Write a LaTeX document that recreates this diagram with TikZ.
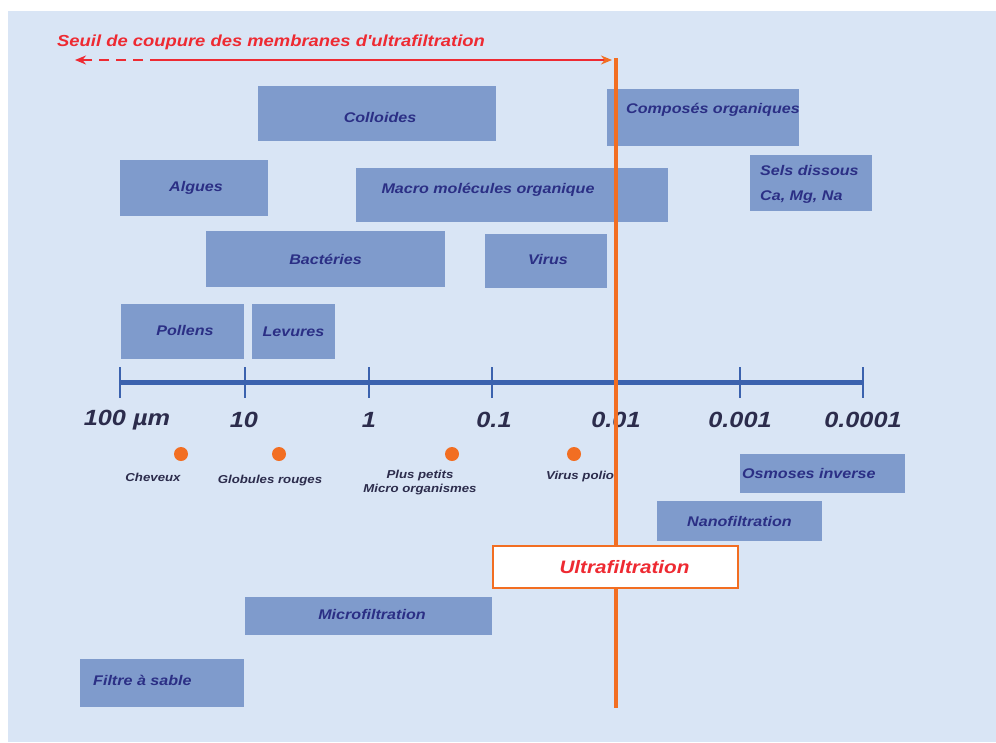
\documentclass[tikz,border=0pt]{standalone}
\usepackage{fontspec}
\setmainfont{Liberation Sans}
\newfontfamily\widefont[FakeStretch=1.15]{Liberation Sans}
\usetikzlibrary{arrows.meta}
\definecolor{bg}{HTML}{D9E5F5}
\definecolor{boxc}{HTML}{7F9BCC}
\definecolor{txt}{HTML}{2B2F85}
\definecolor{axc}{HTML}{3B62AE}
\definecolor{org}{HTML}{F26E22}
\definecolor{redt}{HTML}{EE2A32}
\definecolor{lab}{HTML}{2C2C4C}
\begin{document}
\begin{tikzpicture}[x=1pt,y=-1pt,
  box/.style={fill=boxc, draw=none, inner sep=0pt, text=txt,
    font=\widefont\bfseries\itshape\fontsize{14}{16}\selectfont},
  boxtext/.style={inner sep=0pt, text=txt, font=\widefont\bfseries\itshape\fontsize{14}{16}\selectfont},
  axlab/.style={inner sep=0pt, text=lab, font=\widefont\bfseries\itshape\fontsize{22}{24}\selectfont},
  small/.style={inner sep=0pt, text=lab, align=center, font=\widefont\bfseries\itshape\fontsize{11.5}{14}\selectfont},
  dot/.style={circle, fill=org, draw=none, minimum size=14pt, inner sep=0pt},
  tick/.style={draw=axc, line width=2.5pt},
  axis/.style={draw=axc, line width=5pt},
  procbox/.style={fill=boxc, draw=none, inner sep=0pt, text=txt,
    font=\widefont\bfseries\itshape\fontsize{14}{16}\selectfont}
]
\useasboundingbox (0,0) rectangle (996,742);
\fill[bg] (8,11) rectangle (996,742);

% title and arrow
\node[anchor=west, inner sep=0pt, text=redt, font=\widefont\bfseries\itshape\fontsize{16}{18}\selectfont] (title) at (57,42) {Seuil de coupure des membranes d'ultrafiltration};
\coordinate (arL) at (75,60);
\coordinate (arM) at (160,60);
\coordinate (arR) at (612,60);
\draw[redt, line width=2pt, dashed, dash pattern=on 10pt off 7pt, -{Stealth[length=11pt,width=9pt]}] (arM) -- (arL);
\draw[redt, line width=2pt, -{Stealth[length=11pt,width=9pt,color=org]}] (arM) -- (arR);

% category boxes
\node[box, minimum width=238pt, minimum height=55pt] (colloides) at (377,113.5) {};
\node[boxtext] (colloidesT) at (380,117) {Colloides};
\node[box, minimum width=192pt, minimum height=57pt] (composes) at (703,117.5) {};
\node[boxtext, anchor=west] (composesT) at (626,110) {Composés organiques};
\node[box, minimum width=148pt, minimum height=56pt] (algues) at (194,188) {};
\node[boxtext] (alguesT) at (196,188) {Algues};
\node[box, minimum width=312pt, minimum height=54pt] (macro) at (512,195) {};
\node[boxtext] (macroT) at (488,190) {Macro molécules organique};
\node[box, minimum width=122pt, minimum height=56pt] (sels) at (811,183) {};
\node[boxtext, anchor=west] (selsT1) at (760,170) {Sels dissous};
\node[boxtext, anchor=west] (selsT2) at (760,197) {Ca, Mg, Na};
\node[box, minimum width=239pt, minimum height=56pt] (bacteries) at (325.5,259) {Bactéries};
\node[box, minimum width=122pt, minimum height=54pt] (virus) at (546,261) {};
\node[boxtext] (virusT) at (548,259) {Virus};
\node[box, minimum width=123pt, minimum height=55pt] (pollens) at (182.5,331.5) {};
\node[boxtext] (pollensT) at (185,330) {Pollens};
\node[box, minimum width=83pt, minimum height=55pt] (levures) at (293.5,331.5) {Levures};

% axis
\coordinate (t0) at (120,382);
\coordinate (t1) at (245,382);
\coordinate (t2) at (369,382);
\coordinate (t3) at (492,382);
\coordinate (t4) at (616,382);
\coordinate (t5) at (740,382);
\coordinate (t6) at (863,382);
\draw[axis] (t0) -- (t6);
\foreach \t in {t0,t1,t2,t3,t4,t5,t6}{
  \draw[tick] ([yshift=15pt]\t) -- ([yshift=-16pt]\t);
}
\node[axlab] (l0) at (127,420) {100 µm};
\node[axlab] (l1) at (244,420) {10};
\node[axlab] (l2) at (369,420) {1};
\node[axlab] (l3) at (494,420) {0.1};
\node[axlab] (l4) at (616,420) {0.01};
\node[axlab] (l5) at (740,420) {0.001};
\node[axlab] (l6) at (863,420) {0.0001};

% sample dots
\node[dot] (d1) at (181,454) {};
\node[dot] (d2) at (279,454) {};
\node[dot] (d3) at (452,454) {};
\node[dot] (d4) at (574,454) {};
\node[small] (s1) at (153,477) {Cheveux};
\node[small] (s2) at (270,481) {Globules rouges};
\node[small] (s3) at (420,483) {Plus petits\\Micro organismes};
\node[small, anchor=west] (s4) at (546,477) {Virus polio};

% process boxes
\node[procbox, minimum width=165pt, minimum height=39pt] (osmose) at (822.5,473.5) {};
\node[boxtext, anchor=west] (osmoseT) at (742,473) {Osmoses inverse};
\node[procbox, minimum width=165pt, minimum height=40pt] (nano) at (739.5,521) {Nanofiltration};
\node[procbox, minimum width=247pt, minimum height=38pt] (micro) at (368.5,616) {};
\node[boxtext] (microT) at (372,614) {Microfiltration};
\node[procbox, minimum width=164pt, minimum height=48pt] (sable) at (162,683) {};
\node[boxtext, anchor=west] (sableT) at (93,680) {Filtre à sable};

% orange cut-off line
\coordinate (ltop) at (616,58);
\coordinate (lbot) at (616,708);
\draw[org, line width=3.5pt] (ltop) -- (lbot);

\node[fill=white, draw=org, line width=2.5pt, minimum width=245pt, minimum height=42pt, inner sep=0pt,
  text=redt, font=\widefont\bfseries\itshape\fontsize{18}{20}\selectfont] (ultra) at (615.5,567) {\hspace*{18pt}Ultrafiltration};
\end{tikzpicture}
\end{document}
